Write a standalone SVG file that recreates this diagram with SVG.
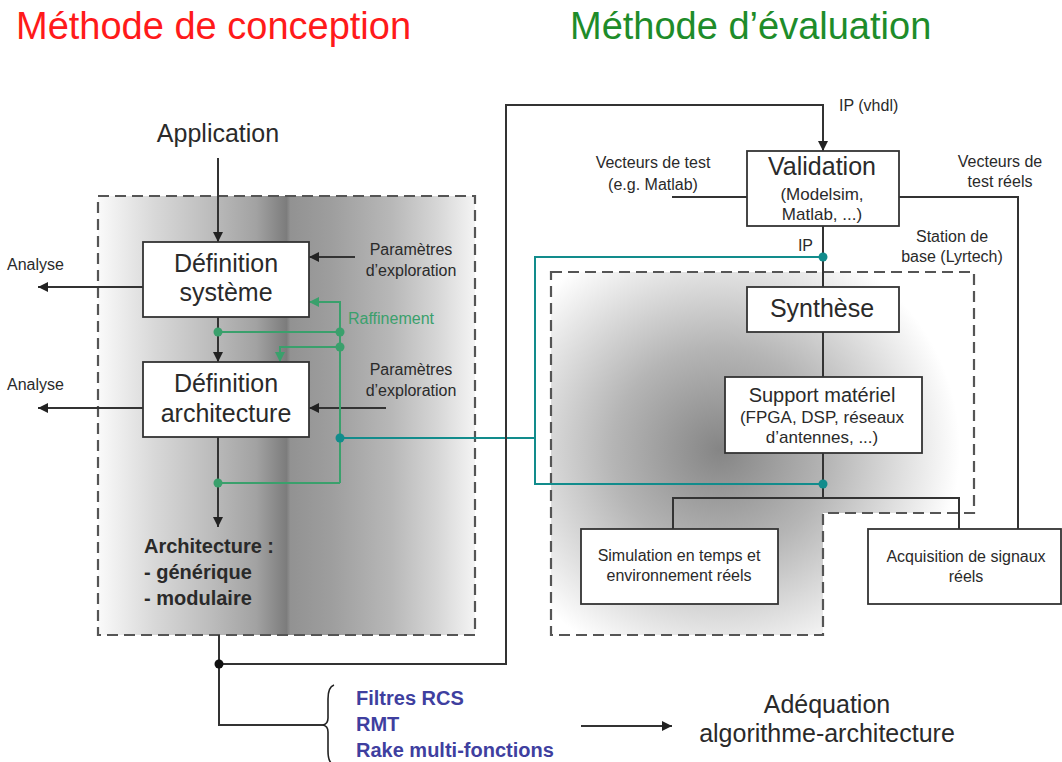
<svg xmlns="http://www.w3.org/2000/svg" width="1062" height="762" viewBox="0 0 1062 762">
<defs>
<style>
text{font-family:"Liberation Sans",Arial,sans-serif;fill:#2a2a2a}
.title{font-size:38px}
.big{font-size:25px;text-anchor:middle}
.mid{font-size:17px;text-anchor:middle}
.sm{font-size:16px}
.smc{font-size:16px;text-anchor:middle}
.bold{font-size:20px;font-weight:bold}
.blue{font-size:20px;font-weight:bold;fill:#3f3f9f}
.box{fill:#fff;stroke:#333;stroke-width:1.8}
.ln{fill:none;stroke:#333;stroke-width:2}
.gr{fill:none;stroke:#3aa06c;stroke-width:2}
.tl{fill:none;stroke:#128c8c;stroke-width:2}
.dash{stroke:#555;stroke-width:2.2;stroke-dasharray:11 6}
</style>
<marker id="a" viewBox="0 0 10 10" refX="10" refY="5" markerWidth="10" markerHeight="10" markerUnits="userSpaceOnUse" orient="auto"><path d="M0,0 L10,5 L0,10 z" fill="#222"/></marker>
<marker id="ag" viewBox="0 0 10 10" refX="10" refY="5" markerWidth="10" markerHeight="10" markerUnits="userSpaceOnUse" orient="auto"><path d="M0,0 L10,5 L0,10 z" fill="#3aa06c"/></marker>
<linearGradient id="lg" x1="0" y1="0" x2="1" y2="0">
<stop offset="0" stop-color="#fafafa"/>
<stop offset="0.15" stop-color="#d8d8d8"/>
<stop offset="0.3" stop-color="#bcbcbc"/>
<stop offset="0.42" stop-color="#a2a2a2"/>
<stop offset="0.5" stop-color="#7c7c7c"/>
<stop offset="0.51" stop-color="#929292"/>
<stop offset="0.62" stop-color="#9e9e9e"/>
<stop offset="0.78" stop-color="#b8b8b8"/>
<stop offset="0.9" stop-color="#d6d6d6"/>
<stop offset="1" stop-color="#f4f4f4"/>
</linearGradient>
<radialGradient id="rg" gradientUnits="userSpaceOnUse" cx="720" cy="450" r="240" gradientTransform="translate(720 450) scale(1 0.95) translate(-720 -450)">
<stop offset="0" stop-color="#858585"/>
<stop offset="0.45" stop-color="#b5b5b5"/>
<stop offset="0.8" stop-color="#e4e4e4"/>
<stop offset="1" stop-color="#ffffff"/>
</radialGradient>
</defs>
<rect width="1062" height="762" fill="#fff"/>

<text class="title" x="16" y="39" style="fill:#ff1a1a">Méthode de conception</text>
<text class="title" x="570" y="39" style="fill:#1e8c2a">Méthode d’évaluation</text>

<g id="zone-conception">
<rect x="98" y="196" width="377" height="439" fill="url(#lg)" class="dash"/>
</g>
<g id="zone-station">
<path d="M551,272 H974 V513 H823 V635 H551 Z" fill="url(#rg)" class="dash"/>
<text class="smc" x="952" y="242">Station de</text>
<text class="smc" x="952" y="262">base (Lyrtech)</text>
</g>

<g id="connectors">
<line class="ln" x1="218" y1="158" x2="218" y2="242" marker-end="url(#a)"/>
<line class="ln" x1="218" y1="317" x2="218" y2="362" marker-end="url(#a)"/>
<line class="ln" x1="218" y1="437" x2="218" y2="527" marker-end="url(#a)"/>
<line class="ln" x1="143" y1="287" x2="38" y2="287" marker-end="url(#a)"/>
<line class="ln" x1="143" y1="408" x2="38" y2="408" marker-end="url(#a)"/>
<line class="ln" x1="355" y1="257" x2="309" y2="257" marker-end="url(#a)"/>
<line class="ln" x1="386" y1="408" x2="309" y2="408" marker-end="url(#a)"/>
<path class="gr" d="M340,483 V302 H309" marker-end="url(#ag)"/>
<path class="gr" d="M218,332 H340"/>
<path class="gr" d="M340,347 H280 V362" marker-end="url(#ag)"/>
<path class="gr" d="M218,483 H340"/>
<path class="tl" d="M340,438 H535"/>
<path class="tl" d="M823,257 H535 V484 H823"/>
<path class="ln" d="M219,635 V725 H325"/>
<path class="ln" d="M219,664 H506 V105 H823 V151" marker-end="url(#a)"/>
<line class="ln" x1="672" y1="197" x2="747" y2="197"/>
<path class="ln" d="M899,197 H1018 V529"/>
<line class="ln" x1="823" y1="226" x2="823" y2="287"/>
<line class="ln" x1="823" y1="332" x2="823" y2="377"/>
<path class="ln" d="M823,453 V498"/>
<path class="ln" d="M673,529 V498 H959 V529"/>
<line class="ln" x1="581" y1="726" x2="672" y2="726" marker-end="url(#a)"/>
<path d="M334,685 Q328,687 328,699 L328,718 Q328,724 323,725 Q328,726 328,732 L328,751 Q328,763 334,765" fill="none" stroke="#222" stroke-width="1.6"/>
<circle cx="218" cy="332" r="4.5" fill="#3aa06c"/>
<circle cx="340" cy="332" r="4.5" fill="#3aa06c"/>
<circle cx="340" cy="347" r="4.5" fill="#3aa06c"/>
<circle cx="218" cy="483" r="4.5" fill="#3aa06c"/>
<circle cx="340" cy="438" r="4.5" fill="#128c8c"/>
<circle cx="823" cy="257" r="4.5" fill="#128c8c"/>
<circle cx="823" cy="484" r="4.5" fill="#128c8c"/>
<circle cx="219" cy="664" r="4.5" fill="#111"/>
</g>

<g id="application"><text class="big" x="218" y="142">Application</text></g>
<g id="analyse1"><text class="sm" x="7" y="270">Analyse</text></g>
<g id="analyse2"><text class="sm" x="7" y="390">Analyse</text></g>
<g id="param1"><text class="smc" x="411" y="255">Paramètres</text><text class="smc" x="411" y="276">d’exploration</text></g>
<g id="param2"><text class="smc" x="411" y="375">Paramètres</text><text class="smc" x="411" y="396">d’exploration</text></g>
<g id="raffinement"><text class="sm" x="348" y="324" style="fill:#3aa06c">Raffinement</text></g>

<g id="def-systeme">
<rect class="box" x="143" y="242" width="166" height="75"/>
<text class="big" x="226" y="272">Définition</text>
<text class="big" x="226" y="301">système</text>
</g>
<g id="def-architecture">
<rect class="box" x="143" y="362" width="166" height="75"/>
<text class="big" x="226" y="392">Définition</text>
<text class="big" x="226" y="422">architecture</text>
</g>
<g id="architecture">
<text class="bold" x="144" y="553">Architecture :</text>
<text class="bold" x="144" y="579">- générique</text>
<text class="bold" x="144" y="605">- modulaire</text>
</g>

<g id="ipvhdl"><text class="sm" x="839" y="111">IP (vhdl)</text></g>
<g id="vecteurs-test"><text class="smc" x="653" y="168">Vecteurs de test</text><text class="smc" x="653" y="190">(e.g. Matlab)</text></g>
<g id="vecteurs-reels"><text class="smc" x="1000" y="167">Vecteurs de</text><text class="smc" x="1000" y="187">test réels</text></g>
<g id="validation">
<rect class="box" x="747" y="151" width="152" height="75"/>
<text class="big" x="822" y="175">Validation</text>
<text class="mid" x="822" y="200">(Modelsim,</text>
<text class="mid" x="822" y="220">Matlab, ...)</text>
</g>
<g id="ip"><text class="sm" x="813" y="251" text-anchor="end">IP</text></g>
<g id="synthese">
<rect class="box" x="747" y="287" width="152" height="45"/>
<text class="big" x="822" y="317">Synthèse</text>
</g>
<g id="support">
<rect class="box" x="725" y="377" width="197" height="76"/>
<text class="mid" x="822" y="402" style="font-size:20px">Support matériel</text>
<text class="mid" x="822" y="423">(FPGA, DSP, réseaux</text>
<text class="mid" x="822" y="443">d’antennes, ...)</text>
</g>
<g id="simulation">
<rect class="box" x="581" y="529" width="197" height="75"/>
<text class="smc" x="679" y="561">Simulation en temps et</text>
<text class="smc" x="679" y="581">environnement réels</text>
</g>
<g id="acquisition">
<rect class="box" x="868" y="529" width="193" height="75"/>
<text class="smc" x="966" y="562">Acquisition de signaux</text>
<text class="smc" x="966" y="582">réels</text>
</g>

<g id="applications">
<text class="blue" x="356" y="705">Filtres RCS</text>
<text class="blue" x="356" y="731">RMT</text>
<text class="blue" x="356" y="757">Rake multi-fonctions</text>
</g>
<g id="adequation">
<text class="big" x="827" y="713">Adéquation</text>
<text class="big" x="827" y="742">algorithme-architecture</text>
</g>
</svg>
